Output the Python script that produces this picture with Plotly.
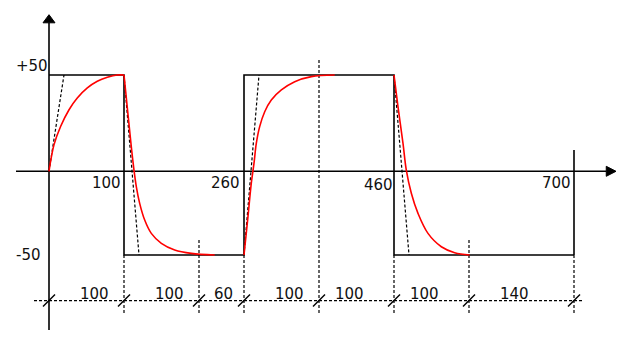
import plotly.graph_objects as go

# ---- data ----
HIGH = 50
LOW = -50
AXIS_Y = -3.5                     # level of the horizontal axis line
switch_times = [0, 100, 260, 460, 700]
square_x = [0, 100, 100, 260, 260, 460, 460, 700]
square_y = [HIGH, HIGH, LOW, LOW, HIGH, HIGH, LOW, LOW]

# red response curves
r1_x = [0, 6.7, 15.6, 26.7, 37.7, 51.1, 64.4, 77.8, 91.1, 100]
r1_y = [-3.5, 11.3, 21.5, 30.7, 37.2, 42.8, 46.5, 48.7, 50, 50]
r2_x = [100, 105.3, 109.7, 113.3, 116.4, 120.9, 127.6, 136.4, 149.8, 167.6, 189.8, 220.9]
r2_y = [50, 28.1, 10.2, -2.8, -12.0, -21.3, -30.6, -38.0, -43.5, -47.2, -49.1, -50]
r3_x = [260, 265.3, 269.7, 273.3, 276.4, 280.9, 287.6, 296.4, 309.8, 327.6, 349.8, 380.9]
r3_y = [-50, -28.7, -10.2, 0.9, 12.0, 21.3, 29.6, 36.1, 41.7, 46.3, 49.1, 50]
r4_x = [460, 465.3, 472, 476.4, 483.1, 492, 505.3, 523.1, 540.9, 560.9]
r4_y = [50, 32.4, 12.0, -2.8, -15.7, -26.9, -38.0, -45.4, -48.7, -50]

# tangent (dashed) lines: start and end points
tangents = [((0, AXIS_Y), (20, HIGH)),
            ((100, HIGH), (120, LOW)),
            ((260, LOW), (280, HIGH)),
            ((460, HIGH), (480, LOW))]

# dimension line
dim_edges = [0, 100, 200, 260, 360, 460, 560, 700]
dim_labels = ["100", "100", "60", "100", "100", "100", "140"]
dim_label_x = [60, 160.7, 232, 320, 400, 500, 620]

# axis labels
y_labels = ["+50", "-50"]
x_labels = ["100", "260", "460", "700"]

# ---- geometry helpers (pixel -> data) ----
PX_X = 0.75     # px per x unit
PX_Y = 1.8      # px per y unit
DIM_Y = -75.3
EXT_BOTTOM = -83.3

fig = go.Figure()

def line(xs, ys, color="black", width=1.6, dash=None):
    fig.add_trace(go.Scatter(x=xs, y=ys, mode="lines",
                             line=dict(color=color, width=width, dash=dash),
                             hoverinfo="skip", showlegend=False))

DASH = "3px,2px"

# extension lines (dashed)
ext_tops = {0: None, 100: LOW, 200: -41.7, 260: LOW, 360: 58.3,
            460: LOW, 560: -41.7, 700: LOW}
for e in dim_edges:
    top = ext_tops[e]
    if top is not None:
        line([e, e], [top, EXT_BOTTOM], width=1.2, dash=DASH)

# dimension line
line([-20, 712], [DIM_Y, DIM_Y], width=1.2, dash=DASH)
for e in dim_edges:
    line([e - 6 / PX_X, e + 6 / PX_X], [DIM_Y - 6 / PX_Y, DIM_Y + 6 / PX_Y], width=1.4)

# axes
line([0, 0], [-91.7, 79], width=1.6)
line([-44, 743], [AXIS_Y, AXIS_Y], width=1.6)
fig.add_trace(go.Scatter(x=[-6 / PX_X, 6 / PX_X, 0, -6 / PX_X],
                         y=[79, 79, 83.5, 79], mode="lines", fill="toself",
                         fillcolor="black", line=dict(color="black", width=1),
                         hoverinfo="skip", showlegend=False))
fig.add_trace(go.Scatter(x=[743, 743, 756, 743],
                         y=[AXIS_Y - 5 / PX_Y, AXIS_Y + 5 / PX_Y, AXIS_Y, AXIS_Y - 5 / PX_Y],
                         mode="lines", fill="toself", fillcolor="black",
                         line=dict(color="black", width=1),
                         hoverinfo="skip", showlegend=False))

# square wave
line(square_x, square_y, width=1.6)
line([700, 700], [LOW, 8.3], width=1.6)

# tangents
for (a, b) in tangents:
    line([a[0], b[0]], [a[1], b[1]], width=1.2, dash=DASH)

# red curves
for xs, ys in [(r1_x, r1_y), (r2_x, r2_y), (r3_x, r3_y), (r4_x, r4_y)]:
    fig.add_trace(go.Scatter(x=xs, y=ys, mode="lines",
                             line=dict(color="red", width=1.6, shape="spline", smoothing=1.0),
                             hoverinfo="skip", showlegend=False))

FONT = dict(family="DejaVu Sans", size=15, color="#111111")
ann = []
for txt, (x, y) in zip(y_labels, [(-22.7, 55), (-28, -50)]):
    ann.append(dict(x=x, y=y, text=txt))
for txt, (x, y) in zip(x_labels, [(76, -9.8), (235.3, -10), (439.6, -11.1), (676, -9.8)]):
    ann.append(dict(x=x, y=y, text=txt))
for txt, x in zip(dim_labels, dim_label_x):
    ann.append(dict(x=x, y=-71.4, text=txt))
for a in ann:
    a.update(xref="x", yref="y", showarrow=False, font=FONT,
             xanchor="center", yanchor="middle")

fig.update_layout(
    width=631, height=347, autosize=False,
    margin=dict(l=0, r=0, t=0, b=0),
    paper_bgcolor="white", plot_bgcolor="white",
    xaxis=dict(range=[-49 / PX_X, (631 - 49) / PX_X], visible=False, fixedrange=True),
    yaxis=dict(range=[(165 - 347) / PX_Y, 165 / PX_Y], visible=False, fixedrange=True),
    annotations=ann,
    showlegend=False,
)

fig.write_html("out.html")
